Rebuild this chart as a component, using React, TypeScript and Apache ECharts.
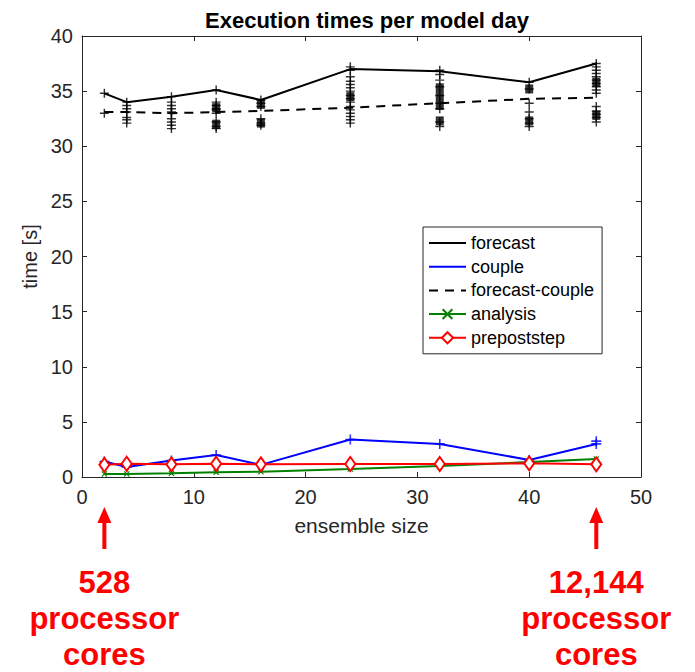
import React, { useEffect, useRef } from "react";
import * as echarts from "echarts";

// ---- data ----
const ensembleSizes = [2, 4, 8, 12, 16, 24, 32, 40, 46];
const forecast = [34.8, 34.0, 34.5, 35.1, 34.2, 37.0, 36.8, 35.8, 37.5];
const forecastCouple = [33.1, 33.1, 33.0, 33.1, 33.2, 33.5, 33.9, 34.3, 34.4];
const couple = [1.4, 0.9, 1.5, 2.0, 1.1, 3.4, 3.0, 1.55, 3.0];
const analysis = [0.27, 0.27, 0.33, 0.42, 0.48, 0.72, 1.0, 1.35, 1.63];
const prepoststep = [1.1, 1.2, 1.15, 1.2, 1.15, 1.18, 1.18, 1.24, 1.15];
const coupleExtra = [[46, 3.25]];

// individual member timings (plus markers), one list per ensemble size
const memberTimes: number[][] = [
  [34.8, 33.0],
  [34.0, 33.7, 33.4, 33.1, 32.6, 32.4, 32.1],
  [34.5, 34.0, 33.7, 33.4, 33.1, 33.0, 32.5, 32.2, 31.9, 31.6],
  [35.1, 34.0, 33.7, 33.4, 33.3, 33.0, 32.2, 31.8, 31.6],
  [34.2, 33.9, 33.6, 32.5, 32.1, 31.9],
  [37.2, 36.9, 36.3, 35.9, 35.6, 35.3, 35.0, 34.6, 34.3, 34.0, 33.6, 33.3, 33.0, 32.7, 32.4, 32.1],
  [36.9, 36.5, 36.0, 35.4, 34.6, 33.9, 33.4, 32.2, 31.8],
  [35.8, 35.2, 33.9, 33.1, 32.5, 32.1, 31.8],
  [37.5, 37.2, 36.9, 36.6, 36.3, 36.0, 35.7, 35.4, 35.1, 34.8, 33.6, 33.2, 32.9, 32.6, 32.2],
];
// dense overlapping clusters (drawn as filled squares)
const clusterTimes: number[][] = [
  [],
  [],
  [],
  [33.5, 32.0],
  [33.8, 32.1],
  [34.5],
  [35.3, 34.5, 33.7, 32.3],
  [35.2, 32.3],
  [35.8, 32.8],
];

const xTicks = { min: 0, max: 50, interval: 10 };
const yTicks = { min: 0, max: 40, interval: 5 };
const annotations = [
  { size: 2, lines: ["528", "processor", "cores"] },
  { size: 46, lines: ["12,144", "processor", "cores"] },
];

const PLUS = "path://M4.2,0H5.8V4.2H10V5.8H5.8V10H4.2V5.8H0V4.2H4.2Z";
const CROSS =
  "path://M0,1.3L1.3,0L5,3.7L8.7,0L10,1.3L6.3,5L10,8.7L8.7,10L5,6.3L1.3,10L0,8.7L3.7,5Z";

const FONT = "'Liberation Sans', Arial, Helvetica, sans-serif";
const AXIS_COLOR = "#262626";

export default function App() {
  const ref = useRef<HTMLDivElement>(null);
  useEffect(() => {
    document.body.style.margin = "0";
    if (!ref.current) return;
    const chart = echarts.init(ref.current, undefined, { renderer: "svg" });

    const pair = (ys: number[]) => ensembleSizes.map((x, i) => [x, ys[i]]);
    const members: number[][] = [];
    memberTimes.forEach((list, i) => list.forEach((t) => members.push([ensembleSizes[i], t])));
    const clusters: number[][] = [];
    clusterTimes.forEach((list, i) => list.forEach((t) => clusters.push([ensembleSizes[i], t])));

    const axisCommon = {
      type: "value" as const,
      axisLine: { show: true, onZero: false, lineStyle: { color: AXIS_COLOR, width: 1 } },
      axisTick: { show: true, inside: true, length: 5, lineStyle: { color: AXIS_COLOR, width: 1 } },
      splitLine: { show: false },
    };
    const hidden = { itemStyle: { opacity: 0 } };

    chart.setOption({
      animation: false,
      backgroundColor: "#ffffff",
      title: {
        text: "Execution times per model day",
        left: 362,
        textAlign: "center",
        top: 4,
        textStyle: { fontFamily: FONT, fontSize: 22, fontWeight: "bold", color: "#000" },
      },
      grid: { left: 82, right: 54, top: 36, bottom: 195, containLabel: false },
      legend: {
        orient: "vertical",
        left: 423,
        top: 227,
        backgroundColor: "#fff",
        borderColor: AXIS_COLOR,
        borderWidth: 1,
        borderRadius: 0,
        padding: [7, 8, 7, 5],
        itemGap: 5.7,
        itemWidth: 37,
        itemHeight: 14,
        textStyle: { fontFamily: FONT, fontSize: 18, lineHeight: 18, color: "#000" },
        data: [
          { name: "forecast", ...hidden },
          { name: "couple", ...hidden },
          { name: "forecast-couple", ...hidden },
          { name: "analysis" },
          { name: "prepoststep" },
        ],
      },
      xAxis: [
        {
          ...axisCommon,
          ...xTicks,
          position: "bottom",
          name: "ensemble size",
          nameLocation: "middle",
          nameGap: 38,
          nameTextStyle: { fontFamily: FONT, fontSize: 21, color: AXIS_COLOR },
          axisLabel: { fontFamily: FONT, fontSize: 20, color: AXIS_COLOR, margin: 10 },
        },
        { ...axisCommon, ...xTicks, position: "top", axisLabel: { show: false } },
      ],
      yAxis: [
        {
          ...axisCommon,
          ...yTicks,
          position: "left",
          name: "time [s]",
          nameLocation: "middle",
          nameGap: 32,
          nameTextStyle: { fontFamily: FONT, fontSize: 20, color: AXIS_COLOR },
          axisLabel: { fontFamily: FONT, fontSize: 20, color: AXIS_COLOR, margin: 9 },
        },
        { ...axisCommon, ...yTicks, position: "right", axisLabel: { show: false } },
      ],
      series: [
        {
          name: "forecast",
          type: "line",
          data: pair(forecast),
          symbol: "none",
          lineStyle: { color: "#000", width: 2 },
          itemStyle: { color: "#000" },
          z: 3,
        },
        {
          name: "couple",
          type: "line",
          data: pair(couple),
          symbol: "none",
          lineStyle: { color: "#0000ff", width: 2 },
          itemStyle: { color: "#0000ff" },
          z: 3,
        },
        {
          name: "forecast-couple",
          type: "line",
          data: pair(forecastCouple),
          symbol: "none",
          lineStyle: { color: "#000", width: 2, type: [9, 7] },
          itemStyle: { color: "#000" },
          z: 3,
        },
        {
          name: "analysis",
          type: "line",
          data: pair(analysis),
          symbol: CROSS,
          symbolSize: 6,
          showAllSymbol: true,
          lineStyle: { color: "#008000", width: 2 },
          itemStyle: { color: "#008000" },
          z: 4,
        },
        {
          name: "prepoststep",
          type: "line",
          data: pair(prepoststep),
          symbol: "emptyDiamond",
          symbolSize: [10, 14],
          showAllSymbol: true,
          lineStyle: { color: "#ff0000", width: 2 },
          itemStyle: { color: "#ff0000", borderWidth: 1.5 },
          z: 5,
        },
        {
          name: "members",
          type: "scatter",
          data: members,
          symbol: PLUS,
          symbolSize: 9,
          itemStyle: { color: "#000" },
          z: 4,
        },
        {
          name: "clusters",
          type: "scatter",
          data: clusters,
          symbol: "rect",
          symbolSize: [8, 9],
          itemStyle: { color: "#000" },
          z: 4,
        },
        {
          name: "couple members",
          type: "scatter",
          data: [...pair(couple), ...coupleExtra],
          symbol: PLUS,
          symbolSize: 10,
          itemStyle: { color: "#0000ff" },
          z: 4,
        },
      ],
    });

    // annotations below the x axis, positioned from the axis scale
    const graphics: any[] = [];
    annotations.forEach((a) => {
      const [px] = chart.convertToPixel({ xAxisIndex: 0, yAxisIndex: 0 }, [a.size, 0]) as number[];
      graphics.push({
        type: "rect",
        shape: { x: px - 2, y: 521, width: 4, height: 28 },
        style: { fill: "#ff0000" },
      });
      graphics.push({
        type: "polygon",
        shape: { points: [[px, 507], [px - 7, 523], [px + 7, 523]] },
        style: { fill: "#ff0000" },
      });
      a.lines.forEach((t, i) => {
        graphics.push({
          type: "text",
          x: px,
          y: 582 + i * 36,
          style: {
            text: t,
            fill: "#ff0000",
            font: `bold 31px ${FONT}`,
            align: "center",
            verticalAlign: "middle",
          },
        });
      });
    });
    chart.setOption({ graphic: graphics });

    return () => chart.dispose();
  }, []);
  return <div ref={ref} style={{ width: 695, height: 672 }} />;
}
